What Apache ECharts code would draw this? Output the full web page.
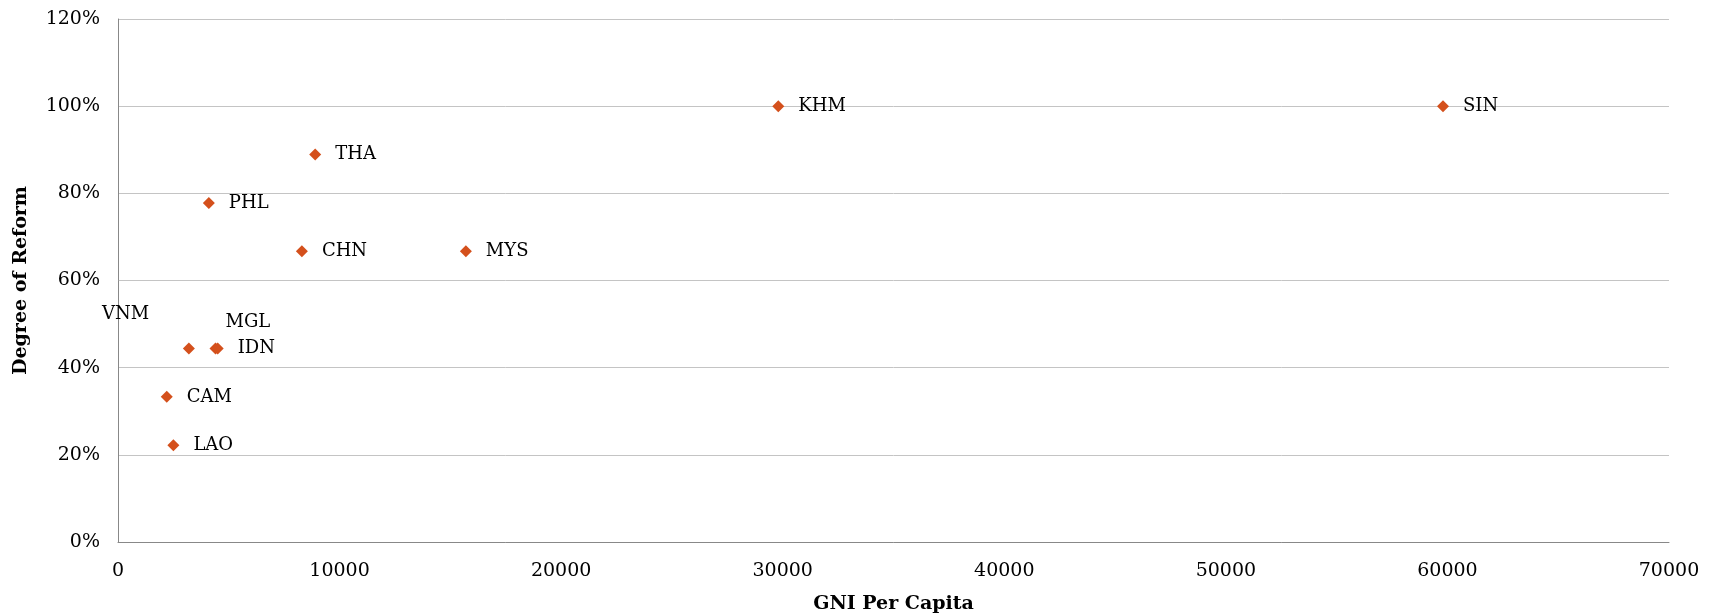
<!DOCTYPE html>
<html>
<head>
<meta charset="utf-8">
<script src="https://cdn.jsdelivr.net/npm/echarts@6/dist/echarts.min.js"></script>
<style>
html,body{margin:0;padding:0;background:#fff;}
#chart{width:1713px;height:616px;}
</style>
</head>
<body>
<div id="chart"></div>
<script>
// Data
const countries = ['KHM', 'SIN', 'THA', 'PHL', 'CHN', 'MYS', 'VNM', 'MGL', 'IDN', 'CAM', 'LAO'];
const gniPerCapita = [29800, 59800, 8900, 4100, 8300, 15700, 3200, 4400, 4500, 2200, 2500];
const reformDegree = [1.0, 1.0, 0.889, 0.778, 0.667, 0.667, 0.444, 0.444, 0.444, 0.333, 0.222];
const yTicks = [0, 0.2, 0.4, 0.6, 0.8, 1.0, 1.2];
const xTicks = [0, 10000, 20000, 30000, 40000, 50000, 60000, 70000];

// Manually moved labels (style only)
const labelShifts = { VNM: [-107, -34], MGL: [-10, -26] };

const FONT = 'DejaVu Serif';
const points = countries.map((c, i) => ({ name: c, value: [gniPerCapita[i], reformDegree[i]] }));

const chart = echarts.init(document.getElementById('chart'));
chart.setOption({
  animation: false,
  grid: { left: 118, right: 44, top: 19, bottom: 74, containLabel: false, outerBoundsMode: 'none' },
  xAxis: {
    type: 'value',
    min: xTicks[0], max: xTicks[xTicks.length - 1], interval: 10000,
    name: 'GNI Per Capita', nameLocation: 'middle', nameGap: 53,
    nameTextStyle: { fontFamily: FONT, fontWeight: 'bold', fontSize: 19, color: '#000' },
    axisLine: { show: true, lineStyle: { color: '#888', width: 1 } },
    axisTick: { show: false },
    splitLine: { show: false },
    axisLabel: { fontFamily: FONT, fontSize: 19, color: '#000', margin: 20,
      formatter: v => String(v) }
  },
  yAxis: {
    type: 'value',
    min: yTicks[0], max: yTicks[yTicks.length - 1], interval: 0.2,
    name: 'Degree of Reform', nameLocation: 'middle', nameGap: 87, nameRotate: 90,
    nameTextStyle: { fontFamily: FONT, fontWeight: 'bold', fontSize: 19, color: '#000' },
    axisLine: { show: true, lineStyle: { color: '#888', width: 1 } },
    axisTick: { show: false },
    splitLine: { show: true, lineStyle: { color: '#c4c4c4', width: 1 } },
    axisLabel: { fontFamily: FONT, fontSize: 19, color: '#000', margin: 18,
      formatter: v => Math.round(v * 100) + '%' }
  },
  series: [{
    type: 'scatter',
    symbol: 'diamond',
    symbolSize: 12,
    itemStyle: { color: '#D4501C', opacity: 1 },
    data: points,
    label: {
      show: true, position: 'right', distance: 14,
      formatter: p => p.name,
      fontFamily: FONT, fontSize: 18, color: '#000'
    },
    labelLayout: function (params) {
      const s = labelShifts[countries[params.dataIndex]];
      return s ? { dx: s[0], dy: s[1], hideOverlap: false } : { hideOverlap: false };
    }
  }]
});
</script>
</body>
</html>
